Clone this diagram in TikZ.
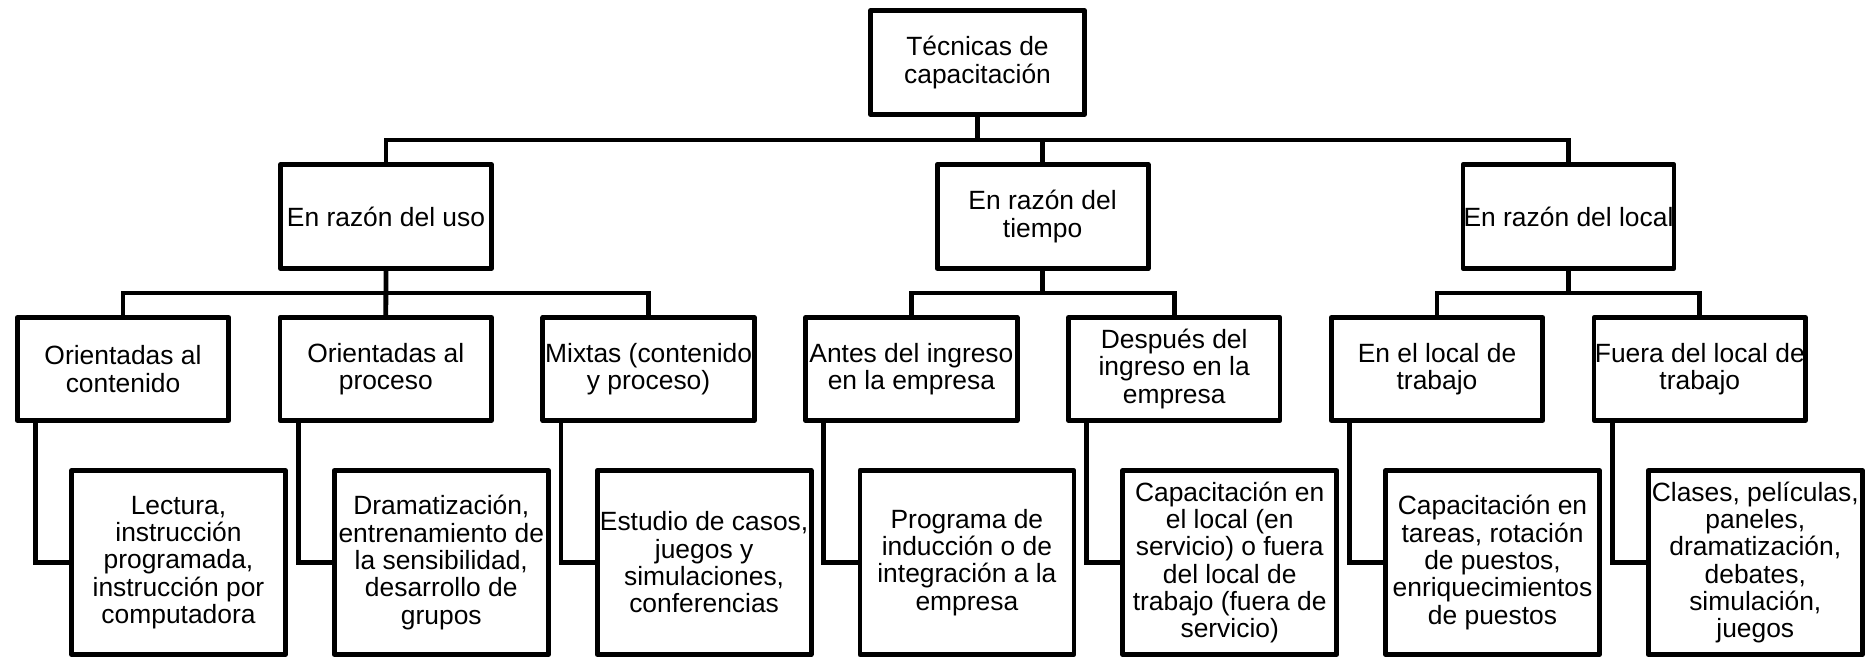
\documentclass[tikz,border=0pt]{standalone}
\usepackage{fontspec}
\setmainfont{Liberation Sans}
\usetikzlibrary{calc}
\begin{document}
\begin{tikzpicture}[x=0.5pt,y=-0.5pt,
  box/.style={draw=black,line width=2.4pt,fill=white,inner sep=0pt,align=center,
    font=\fontsize{13.2pt}{13.65pt}\selectfont,line join=round},
  topbox/.style={box,minimum width=214*0.5pt,minimum height=104*0.5pt},
  lvonebox/.style={box,minimum width=211*0.5pt,minimum height=104*0.5pt},
  lvtwobox/.style={box,minimum width=211.5*0.5pt,minimum height=103*0.5pt},
  lvthreebox/.style={box,minimum width=214*0.5pt,minimum height=184*0.5pt},
  conn/.style={draw=black,line width=2.4pt,line join=miter}]
\useasboundingbox (0,0) rectangle (1875,658);
\coordinate (bar1) at (0,140);
\coordinate (bar2) at (0,293);

\node[topbox] (root) at (977.5,62.5) {Técnicas de\\capacitación};

\node[lvonebox] (uso) at (386,216.5) {En razón del uso};
\node[lvonebox] (tiempo) at (1042.6,216.5) {En razón del\\tiempo};
\node[lvonebox] (local) at (1568.5,216.5) {En razón del local};

\node[lvtwobox] (b1) at (123,369) {Orientadas al\\contenido};
\node[lvtwobox] (b2) at (385.8,369) {Orientadas al\\proceso};
\node[lvtwobox] (b3) at (648.6,369) {Mixtas (contenido\\y proceso)};
\node[lvtwobox] (b4) at (911.4,369) {Antes del ingreso\\en la empresa};
\node[lvtwobox] (b5) at (1174.2,369) {Después del\\ingreso en la\\empresa};
\node[lvtwobox] (b6) at (1437,369) {En el local de\\trabajo};
\node[lvtwobox] (b7) at (1699.8,369) {Fuera del local de\\trabajo};

\node[lvthreebox] (l1) at (178.5,562.5) {Lectura,\\instrucción\\programada,\\instrucción por\\computadora};
\node[lvthreebox] (l2) at (441.3,562.5) {Dramatización,\\entrenamiento de\\la sensibilidad,\\desarrollo de\\grupos};
\node[lvthreebox] (l3) at (704.1,562.5) {Estudio de casos,\\juegos y\\simulaciones,\\conferencias};
\node[lvthreebox] (l4) at (966.9,562.5) {Programa de\\inducción o de\\integración a la\\empresa};
\node[lvthreebox] (l5) at (1229.7,562.5) {Capacitación en\\el local (en\\servicio) o fuera\\del local de\\trabajo (fuera de\\servicio)};
\node[lvthreebox] (l6) at (1492.5,562.5) {Capacitación en\\tareas, rotación\\de puestos,\\enriquecimientos\\de puestos};
\node[lvthreebox] (l7) at (1755.3,562.5) {Clases, películas,\\paneles,\\dramatización,\\debates,\\simulación,\\juegos};

% level 0 -> level 1
\draw[conn] (uso.north) -- (uso.north |- bar1) -- (local.north |- bar1) -- (local.north);
\draw[conn] (root.south) -- (root.south |- bar1);
\draw[conn] (tiempo.north) -- (tiempo.north |- bar1);

% level 1 -> level 2
\draw[conn] (b1.north) -- (b1.north |- bar2) -- (b3.north |- bar2) -- (b3.north);
\draw[conn] (uso.south) -- (b2.north);
\draw[conn] (b4.north) -- (b4.north |- bar2) -- (b5.north |- bar2) -- (b5.north);
\draw[conn] (tiempo.south) -- (tiempo.south |- bar2);
\draw[conn] (b6.north) -- (b6.north |- bar2) -- (b7.north |- bar2) -- (b7.north);
\draw[conn] (local.south) -- (local.south |- bar2);

% level 2 -> level 3
\foreach \i in {1,...,7}{
  \draw[conn] ($(b\i.south west)+(20.5,0)$) |- (l\i.west);
}
\end{tikzpicture}
\end{document}
